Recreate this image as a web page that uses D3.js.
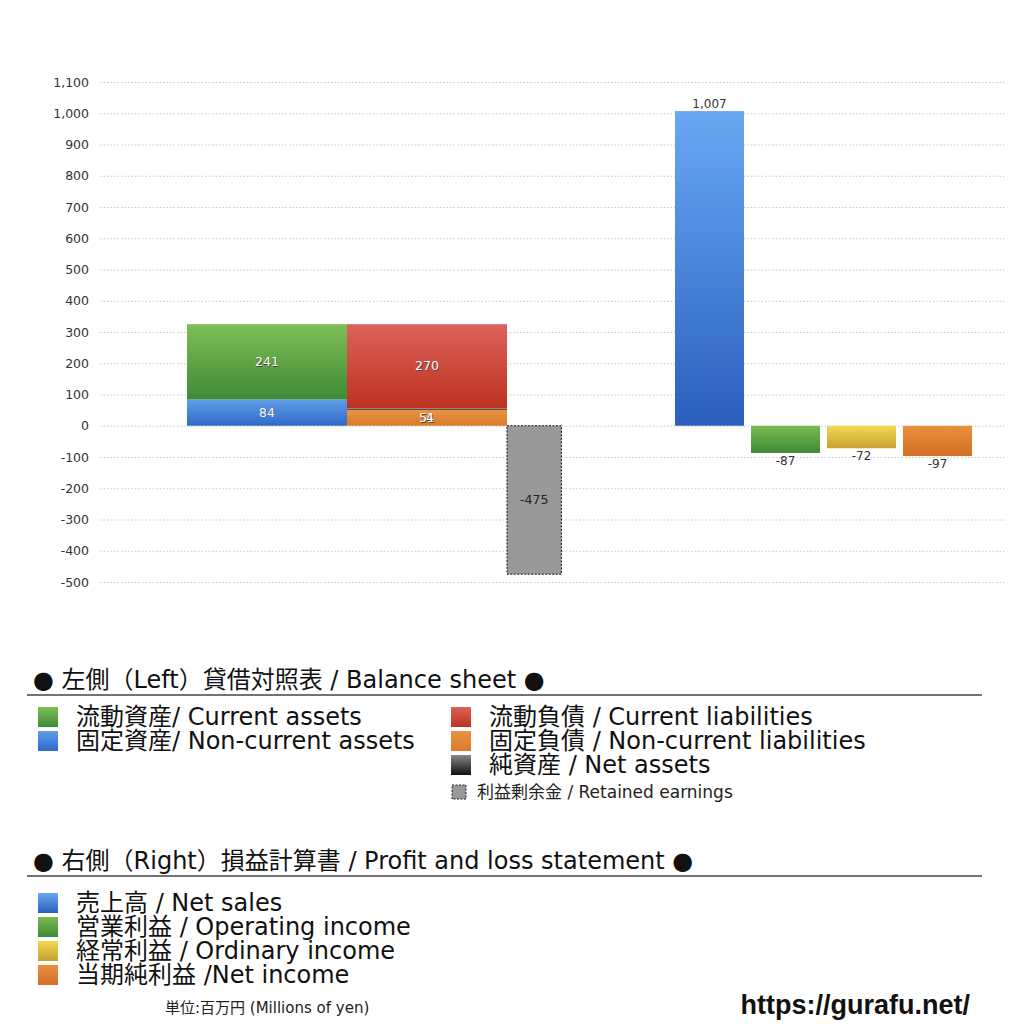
<!DOCTYPE html>
<html lang="ja">
<head>
<meta charset="UTF-8">
<title>貸借対照表 / 損益計算書</title>
<style>
  body { margin: 0; background: #fff; }
  svg { display: block; font-family: "DejaVu Sans", "Noto Sans CJK JP", sans-serif; }
  .grid line { stroke: #c8c8c8; stroke-dasharray: 1.5 2; }
  .tick text { fill: #333; font-size: 12.5px; font-family: "DejaVu Sans", sans-serif; }
  .num { font-family: "DejaVu Sans", sans-serif; }
</style>
</head>
<body>
<svg id="chart" width="1024" height="1024"></svg>
<script src="https://cdnjs.cloudflare.com/ajax/libs/d3/7.8.5/d3.min.js"></script>
<script>
// balance sheet (left side)
const assetNames = ['固定資産', '流動資産'];
const assetValues = [84, 241];
const liabNames = ['固定負債', '純資産', '流動負債'];
const liabValues = [51, 4, 270];
const retainedEarnings = -475;

// profit and loss (right side)
const plNames = ['売上高', '営業利益', '経常利益', '当期純利益'];
const plValues = [1007, -87, -72, -97];

const yTicks = [-500, -400, -300, -200, -100, 0, 100, 200, 300, 400, 500, 600, 700, 800, 900, 1000, 1100];

// plain hyphen for negatives, like the original
const fmt = v => d3.format(',')(v).replace('−', '-');

const svg = d3.select('#chart');
const defs = svg.append('defs');

function grad(id, top, bottom) {
    const g = defs.append('linearGradient').attr('id', id)
        .attr('x1', 0).attr('y1', 0).attr('x2', 0).attr('y2', 1);
    g.append('stop').attr('offset', '0%').attr('stop-color', top);
    g.append('stop').attr('offset', '100%').attr('stop-color', bottom);
    return `url(#${id})`;
}
const fills = {
    '固定資産': grad('gBlue', '#5e9ee9', '#2f69c6'),
    '流動資産': grad('gGreen', '#7fbe56', '#3e8a36'),
    '固定負債': grad('gOrange', '#e99443', '#d97a2b'),
    '純資産': grad('gBlack', '#888', '#111'),
    '流動負債': grad('gRed', '#dc625a', '#bd3220'),
    '売上高': grad('gSales', '#69a8f3', '#2b5fbe'),
    '営業利益': grad('gOp', '#7abb52', '#3f8934'),
    '経常利益': grad('gOrd', '#f1da52', '#c7a12f'),
    '当期純利益': grad('gNet', '#e8923c', '#d36e27')
};

const y = d3.scaleLinear().domain([-500, 1100]).range([582, 82]);

// gridlines + tick labels
const axis = svg.append('g').attr('class', 'grid')
    .attr('transform', 'translate(100,0)')
    .call(d3.axisLeft(y).tickValues(yTicks).tickSize(-905).tickPadding(11)
        .tickFormat(fmt));
axis.select('.domain').remove();

// left side: stacked balance sheet bars
const xLeft = d3.scaleBand().domain(['assets', 'liab']).range([187, 507]);

function stackBar(key, names, values) {
    let base = 0;
    const parts = names.map((n, i) => {
        const p = { name: n, v: values[i], y0: base, y1: base + values[i] };
        base += values[i];
        return p;
    });
    svg.append('g').selectAll('rect').data(parts).join('rect')
        .attr('x', xLeft(key)).attr('width', xLeft.bandwidth())
        .attr('y', d => y(d.y1)).attr('height', d => y(d.y0) - y(d.y1))
        .attr('fill', d => fills[d.name]);
    return parts;
}
const aParts = stackBar('assets', assetNames, assetValues);
const lParts = stackBar('liab', liabNames, liabValues);

// inner labels (white with shadow); tiny segments end up on the bottom part
function innerLabels(key, parts) {
    const cx = xLeft(key) + xLeft.bandwidth() / 2;
    const lab = svg.append('g').attr('class', 'num').attr('font-size', 12.5).attr('text-anchor', 'middle');
    parts.forEach(d => {
        const small = d.v < 20;
        const mid = small ? parts[0] : d;
        const ly = y((mid.y0 + mid.y1) / 2) + 4;
        const lx = cx + (small ? 3 : 0);
        lab.append('text').attr('x', lx + 0.6).attr('y', ly + 0.8).attr('fill', '#444').text(d.v);
        lab.append('text').attr('x', lx).attr('y', ly).attr('fill', '#fff').text(d.v);
    });
}
innerLabels('assets', aParts);
innerLabels('liab', lParts);

// retained earnings bar
const reX = xLeft.range()[1];
const reW = xLeft.bandwidth() * 0.34;
svg.append('rect')
    .attr('x', reX).attr('width', reW)
    .attr('y', y(0)).attr('height', y(retainedEarnings) - y(0))
    .attr('fill', '#999').attr('stroke', '#111').attr('stroke-width', 1)
    .attr('stroke-dasharray', '2 1.5');
svg.append('text').attr('class', 'num').attr('x', reX + reW / 2).attr('y', y(retainedEarnings / 2) + 4)
    .attr('text-anchor', 'middle').attr('font-size', 12.5).attr('fill', '#222')
    .text(fmt(retainedEarnings));

// right side: P/L bars
const xRight = d3.scaleBand().domain(plNames).range([675, 972]).paddingInner(0.092).paddingOuter(0);
svg.append('g').selectAll('rect').data(plNames).join('rect')
    .attr('x', d => xRight(d)).attr('width', xRight.bandwidth())
    .attr('y', (d, i) => y(Math.max(0, plValues[i])))
    .attr('height', (d, i) => Math.abs(y(plValues[i]) - y(0)))
    .attr('fill', d => fills[d]);
svg.append('g').attr('class', 'num').attr('font-size', 12).attr('fill', '#333').attr('text-anchor', 'middle')
    .selectAll('text').data(plNames).join('text')
    .attr('x', d => xRight(d) + xRight.bandwidth() / 2)
    .attr('y', (d, i) => plValues[i] >= 0 ? y(plValues[i]) - 3 : y(plValues[i]) + 12)
    .text((d, i) => fmt(plValues[i]));

// legends
const fs = 24;
function heading(text, yy) {
    svg.append('text').attr('x', 33).attr('y', yy).attr('font-size', fs).attr('fill', '#111').text(text);
    svg.append('line').attr('x1', 27).attr('x2', 982).attr('y1', yy + 7).attr('y2', yy + 7)
        .attr('stroke', '#444').attr('stroke-width', 1.3);
}
function item(x, yy, key, text) {
    svg.append('rect').attr('x', x).attr('y', yy - 18).attr('width', 20).attr('height', 20).attr('fill', fills[key]);
    svg.append('text').attr('x', x + 38).attr('y', yy).attr('font-size', fs).attr('fill', '#111').text(text);
}

heading('● 左側（Left）貸借対照表 / Balance sheet ●', 688);
item(38, 725, '流動資産', '流動資産/ Current assets');
item(38, 749, '固定資産', '固定資産/ Non-current assets');
item(451, 725, '流動負債', '流動負債 /  Current liabilities');
item(451, 749, '固定負債', '固定負債 / Non-current liabilities');
item(451, 773, '純資産', '純資産 / Net assets');
svg.append('rect').attr('x', 452).attr('y', 785).attr('width', 14).attr('height', 14)
    .attr('fill', '#999').attr('stroke', '#222').attr('stroke-dasharray', '2 1.5');
svg.append('text').attr('x', 477).attr('y', 798).attr('font-size', 17).attr('fill', '#222')
    .text('利益剰余金 / Retained earnings');

heading('● 右側（Right）損益計算書 / Profit and loss statement ●', 869);
item(38, 911, '売上高', '売上高 / Net sales');
item(38, 935, '営業利益', '営業利益 / Operating income');
item(38, 959, '経常利益', '経常利益 / Ordinary income');
item(38, 983, '当期純利益', '当期純利益 /Net income');

svg.append('text').attr('x', 165).attr('y', 1013).attr('font-size', 15).attr('fill', '#222')
    .text('単位:百万円 (Millions of yen)');
svg.append('text').attr('x', 970).attr('y', 1014).attr('text-anchor', 'end')
    .attr('font-family', '"Liberation Sans", Arial, sans-serif')
    .attr('font-size', 27).attr('font-weight', 'bold').attr('fill', '#111')
    .text('https://gurafu.net/');
</script>
</body>
</html>
